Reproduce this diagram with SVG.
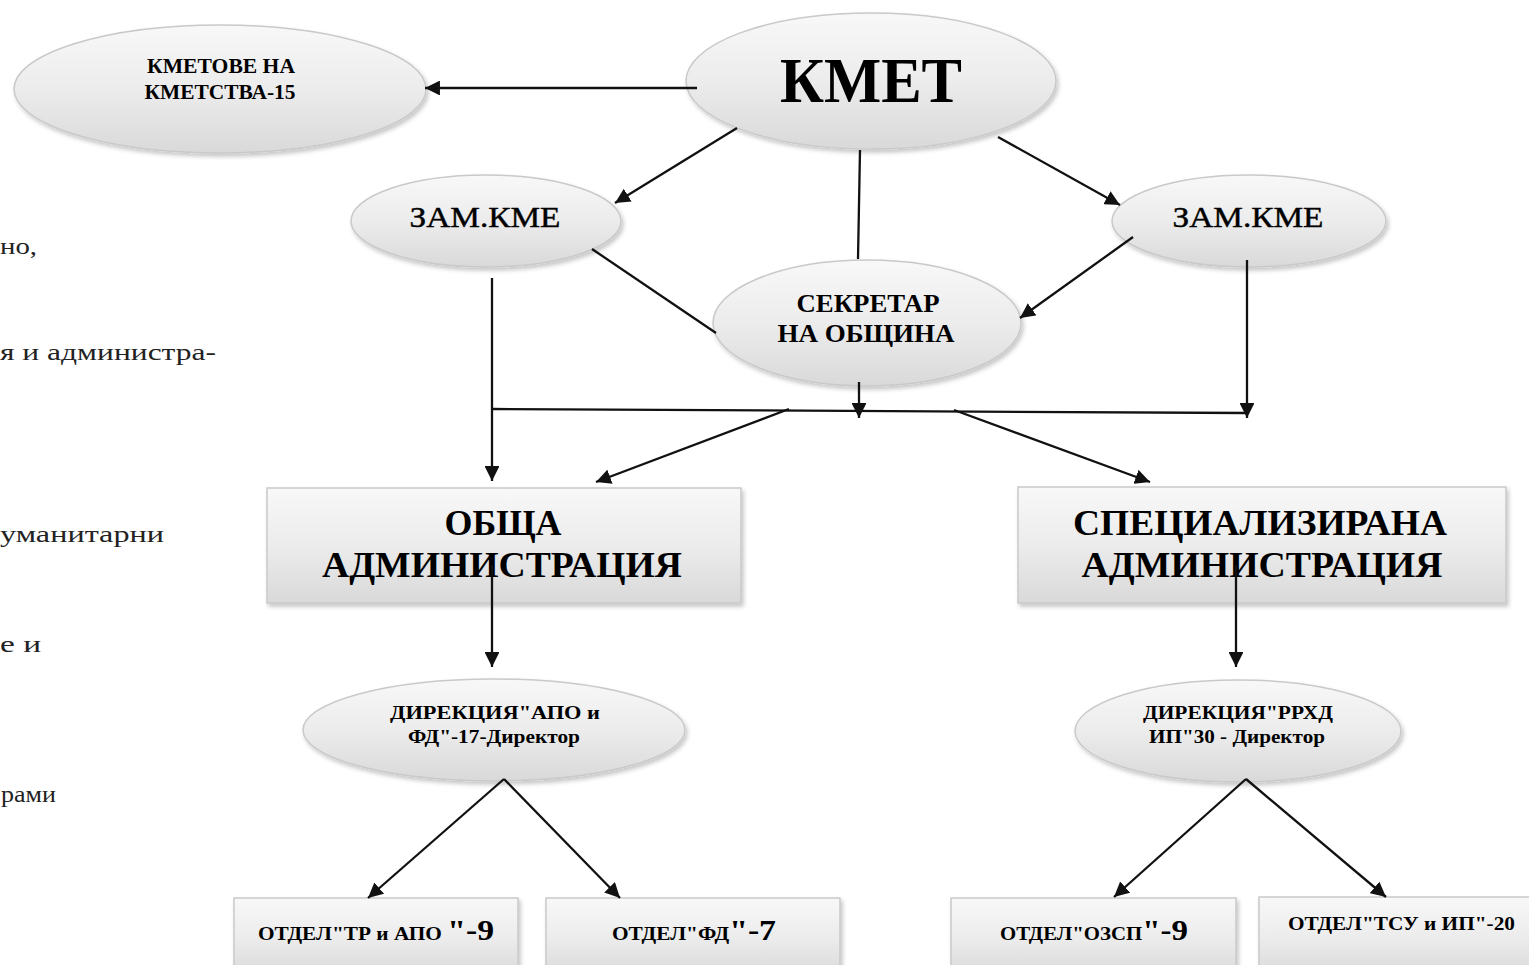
<svg xmlns="http://www.w3.org/2000/svg" width="1529" height="965" viewBox="0 0 1529 965">
<style>
.n{stroke:#c9c9c9;stroke-width:1.5;fill:url(#g)}
.t{font-family:"Liberation Serif","DejaVu Serif",serif;font-weight:bold;fill:#000;text-anchor:middle}
.r{font-weight:normal;stroke:#000;stroke-width:0.4}
.s{text-anchor:start}
.c{stroke:#111;stroke-width:2.3;fill:none}
.a{marker-end:url(#ah)}
.side{font-family:"Liberation Serif","DejaVu Serif",serif;font-size:24px;fill:#222}
</style>
<defs>
<linearGradient id="g" x1="0" y1="0" x2="0" y2="1">
<stop offset="0" stop-color="#f8f8f8"/>
<stop offset="0.5" stop-color="#ececec"/>
<stop offset="1" stop-color="#d9d9d9"/>
</linearGradient>
<filter id="sh" x="-10%" y="-10%" width="125%" height="135%">
<feDropShadow dx="2" dy="3" stdDeviation="2" flood-color="#000" flood-opacity="0.22"/>
</filter>
<marker id="ah" viewBox="0 0 10 10" refX="10" refY="5" markerWidth="6.5" markerHeight="6.5" orient="auto" markerUnits="strokeWidth">
<path d="M0,0 L10,5 L0,10 z" fill="#111"/>
</marker>
</defs>
<rect width="1529" height="965" fill="#fff"/>

<g id="side-text">
<text class="side" x="0" y="254" textLength="37" lengthAdjust="spacingAndGlyphs">но,</text>
<text class="side" x="0" y="360" textLength="216" lengthAdjust="spacingAndGlyphs">я и администра-</text>
<text class="side" x="0" y="542" textLength="164" lengthAdjust="spacingAndGlyphs">уманитарни</text>
<text class="side" x="0" y="652" textLength="41" lengthAdjust="spacingAndGlyphs">е и</text>
<text class="side" x="1" y="802" textLength="55" lengthAdjust="spacingAndGlyphs">рами</text>
</g>

<g id="kmet">
<ellipse class="n" filter="url(#sh)" cx="871" cy="81" rx="185" ry="68"/>
<text class="t" x="871" y="102" font-size="64" textLength="182" lengthAdjust="spacingAndGlyphs">КМЕТ</text>
</g>

<g id="kmetove">
<ellipse class="n" filter="url(#sh)" cx="220" cy="89" rx="206" ry="64"/>
<text class="t" x="221" y="73" font-size="20" textLength="148" lengthAdjust="spacingAndGlyphs">КМЕТОВЕ НА</text>
<text class="t" x="220" y="99" font-size="20" textLength="151" lengthAdjust="spacingAndGlyphs">КМЕТСТВА-15</text>
</g>

<g id="zam-left">
<ellipse class="n" filter="url(#sh)" cx="486" cy="221" rx="135" ry="46"/>
<text class="t r" x="485" y="227" font-size="30" textLength="151" lengthAdjust="spacingAndGlyphs">ЗАМ.КМЕ</text>
</g>

<g id="zam-right">
<ellipse class="n" filter="url(#sh)" cx="1249" cy="221" rx="137" ry="46"/>
<text class="t r" x="1248" y="227" font-size="30" textLength="151" lengthAdjust="spacingAndGlyphs">ЗАМ.КМЕ</text>
</g>

<g id="sekretar">
<ellipse class="n" filter="url(#sh)" cx="867" cy="323" rx="154" ry="63"/>
<text class="t" x="868" y="312" font-size="26" textLength="143" lengthAdjust="spacingAndGlyphs">СЕКРЕТАР</text>
<text class="t" x="866" y="342" font-size="26" textLength="177" lengthAdjust="spacingAndGlyphs">НА ОБЩИНА</text>
</g>

<g id="obshta">
<rect class="n" filter="url(#sh)" x="267" y="488" width="474" height="115"/>
<text class="t" x="503" y="535" font-size="36" textLength="117" lengthAdjust="spacingAndGlyphs">ОБЩА</text>
<text class="t" x="502" y="577" font-size="36" textLength="360" lengthAdjust="spacingAndGlyphs">АДМИНИСТРАЦИЯ</text>
</g>

<g id="special">
<rect class="n" filter="url(#sh)" x="1018" y="487" width="488" height="116"/>
<text class="t" x="1260" y="535" font-size="36" textLength="374" lengthAdjust="spacingAndGlyphs">СПЕЦИАЛИЗИРАНА</text>
<text class="t" x="1262" y="577" font-size="36" textLength="361" lengthAdjust="spacingAndGlyphs">АДМИНИСТРАЦИЯ</text>
</g>

<g id="direkcia-apo">
<ellipse class="n" filter="url(#sh)" cx="494" cy="730" rx="191" ry="51"/>
<text class="t" x="495" y="719" font-size="19" textLength="210" lengthAdjust="spacingAndGlyphs">ДИРЕКЦИЯ"АПО  и</text>
<text class="t" x="494" y="743" font-size="19" textLength="172" lengthAdjust="spacingAndGlyphs">ФД"-17-Директор</text>
</g>

<g id="direkcia-rrhd">
<ellipse class="n" filter="url(#sh)" cx="1238" cy="731" rx="163" ry="51"/>
<text class="t" x="1238" y="719" font-size="19" textLength="190" lengthAdjust="spacingAndGlyphs">ДИРЕКЦИЯ"РРХД</text>
<text class="t" x="1237" y="743" font-size="19" textLength="176" lengthAdjust="spacingAndGlyphs">ИП"30 - Директор</text>
</g>

<g id="otdel-tr">
<rect class="n" filter="url(#sh)" x="234" y="898" width="284" height="80"/>
<text class="t s" x="258" y="940" font-size="19" textLength="236" lengthAdjust="spacingAndGlyphs">ОТДЕЛ"ТР и АПО <tspan font-size="30">"-9</tspan></text>
</g>

<g id="otdel-fd">
<rect class="n" filter="url(#sh)" x="546" y="898" width="294" height="80"/>
<text class="t s" x="612" y="940" font-size="19" textLength="164" lengthAdjust="spacingAndGlyphs">ОТДЕЛ"ФД<tspan font-size="30">"-7</tspan></text>
</g>

<g id="otdel-ozsp">
<rect class="n" filter="url(#sh)" x="951" y="898" width="285" height="80"/>
<text class="t s" x="1000" y="940" font-size="19" textLength="188" lengthAdjust="spacingAndGlyphs">ОТДЕЛ"ОЗСП<tspan font-size="30">"-9</tspan></text>
</g>

<g id="otdel-tsu">
<rect class="n" filter="url(#sh)" x="1259" y="897" width="280" height="80"/>
<text class="t s" x="1288" y="930" font-size="19" textLength="227" lengthAdjust="spacingAndGlyphs">ОТДЕЛ"ТСУ и ИП"-20</text>
</g>

<g id="connectors">
<line class="c a" x1="697" y1="88" x2="425" y2="88"/>
<line class="c a" x1="737" y1="128" x2="615" y2="203"/>
<line class="c a" x1="998" y1="137" x2="1120" y2="205"/>
<line class="c" x1="860" y1="150" x2="858" y2="259"/>
<line class="c" x1="592" y1="249" x2="716" y2="333"/>
<line class="c a" x1="1133" y1="237" x2="1020" y2="318"/>
<line class="c a" x1="492" y1="278" x2="492" y2="481"/>
<line class="c a" x1="1247" y1="260" x2="1247" y2="418"/>
<line class="c" x1="492" y1="409" x2="1247" y2="413"/>
<line class="c a" x1="859" y1="382" x2="859" y2="418"/>
<line class="c a" x1="789" y1="409" x2="596" y2="482"/>
<line class="c a" x1="954" y1="410" x2="1150" y2="482"/>
<line class="c a" x1="492" y1="565" x2="492" y2="667"/>
<line class="c a" x1="1236" y1="565" x2="1236" y2="667"/>
<line class="c a" x1="504" y1="779" x2="368" y2="898"/>
<line class="c a" x1="504" y1="779" x2="620" y2="898"/>
<line class="c a" x1="1246" y1="779" x2="1114" y2="897"/>
<line class="c a" x1="1246" y1="779" x2="1386" y2="897"/>
</g>
</svg>
